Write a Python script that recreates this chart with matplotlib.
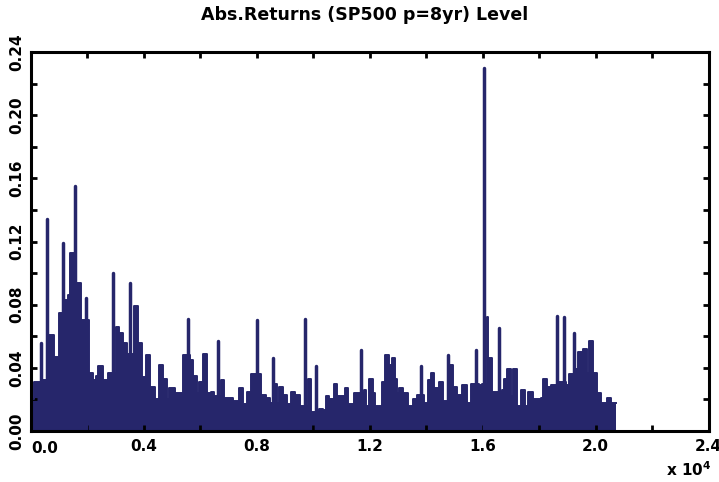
import numpy as np
import matplotlib
matplotlib.use("Agg")
import matplotlib.pyplot as plt
from matplotlib.ticker import MultipleLocator, FuncFormatter

# --- Data (x = trading day index, y = |return|) ---
# background envelope: level starting at each day (step profile)
bg_day = [0, 90, 380, 620, 800, 975, 1190, 1295, 1365, 1610, 1755, 2040, 2180,
          2290, 2390, 2535, 2710, 3000, 3100, 3245, 3385, 3600, 3635, 3775, 3920,
          4060, 4200, 4380, 4520, 4660, 4800, 4880, 5090, 5370, 5650, 5725, 5870,
          5940, 6080, 6220, 6365, 6500, 6720, 6830, 7145, 7360, 7500, 7640, 7780,
          8140, 8320, 8460, 8640, 8710, 8780, 8920, 9060, 9200, 9345, 9520, 9800,
          9910, 10200, 10340, 10440, 10550, 10730, 10830, 11120, 11220, 11440,
          11790, 11860, 11970, 12110, 12180, 12430, 12540, 12680, 12780, 12890,
          12960, 13030, 13170, 13350, 13530, 13670, 13920, 14060, 14170, 14270,
          14450, 14590, 14840, 14950, 15090, 15270, 15440, 15590, 15870, 15975,
          16150, 16190, 16330, 16690, 16760, 16860, 17000, 17075, 17220, 17360,
          17500, 17600, 17780, 18070, 18140, 18280, 18420, 18710, 18950, 19060,
          19310, 19380, 19560, 19700, 19770, 19910, 20050, 20200, 20410, 20550]
bg_level = [0.020, 0.031, 0.032, 0.061, 0.047, 0.075, 0.083, 0.086, 0.113, 0.094,
            0.070, 0.037, 0.032, 0.035, 0.041, 0.032, 0.037, 0.066, 0.062, 0.056,
            0.049, 0.028, 0.079, 0.056, 0.034, 0.048, 0.028, 0.020, 0.042, 0.033,
            0.020, 0.027, 0.024, 0.048, 0.045, 0.035, 0.024, 0.031, 0.049, 0.024,
            0.025, 0.022, 0.032, 0.021, 0.019, 0.027, 0.017, 0.025, 0.036, 0.023,
            0.021, 0.018, 0.030, 0.018, 0.028, 0.023, 0.017, 0.025, 0.023, 0.016,
            0.033, 0.012, 0.014, 0.013, 0.022, 0.020, 0.030, 0.022, 0.027, 0.017,
            0.024, 0.026, 0.016, 0.033, 0.024, 0.016, 0.031, 0.048, 0.042, 0.046,
            0.033, 0.024, 0.027, 0.024, 0.016, 0.020, 0.023, 0.018, 0.032, 0.037,
            0.027, 0.031, 0.019, 0.042, 0.028, 0.023, 0.029, 0.018, 0.030, 0.029,
            0.030, 0.072, 0.046, 0.025, 0.026, 0.033, 0.039, 0.022, 0.039, 0.016,
            0.026, 0.016, 0.025, 0.020, 0.021, 0.033, 0.028, 0.029, 0.031, 0.029,
            0.036, 0.039, 0.050, 0.052, 0.037, 0.057, 0.037, 0.024, 0.018, 0.021,
            0.018]
last_day = 20730

# isolated spikes
spike_day = [337, 567, 1117, 1560, 1950, 2908, 3510, 5567, 6631, 8014, 8564,
             9716, 10106, 11702, 13830, 14787, 15780, 16064, 16595, 18617, 18865,
             19220]
spike_h = [0.056, 0.134, 0.119, 0.155, 0.084, 0.100, 0.094, 0.071, 0.057, 0.070,
           0.046, 0.071, 0.041, 0.051, 0.041, 0.048, 0.051, 0.230, 0.065, 0.073,
           0.072, 0.062]

navy = "#26266b"

fig = plt.figure(figsize=(7.19, 4.82), dpi=100)
ax = fig.add_axes([31 / 719, 1 - 431 / 482, (708.5 - 31) / 719, (431 - 52) / 482])

x = np.array(bg_day + [last_day])
y = np.array(bg_level + [bg_level[-1]])
ax.fill_between(x, y, step="post", color=navy, lw=0)
ax.step(x, y, where="post", color=navy, lw=1.4, solid_joinstyle="round")
ax.vlines(spike_day, 0, spike_h, colors=navy, lw=2.5, capstyle="round")

ax.set_xlim(0, 24000)
ax.set_ylim(0, 0.24)

ax.xaxis.set_major_locator(MultipleLocator(4000))
ax.xaxis.set_minor_locator(MultipleLocator(2000))
ax.yaxis.set_major_locator(MultipleLocator(0.04))
ax.yaxis.set_minor_locator(MultipleLocator(0.02))
# the 0.0 label is drawn by hand below, a bit to the right
ax.xaxis.set_major_formatter(FuncFormatter(lambda v, p: "" if v == 0 else f"{v / 1e4:.1f}"))
ax.yaxis.set_major_formatter(FuncFormatter(lambda v, p: f"{v:.2f}"))
ax.tick_params(which="both", direction="in", top=True, right=True,
               length=4, width=2, color="black")
ax.tick_params(axis="x", pad=6)
ax.tick_params(axis="y", pad=5)
for lab in ax.get_xticklabels():
    lab.set_fontsize(11)
    lab.set_fontweight("bold")
for lab in ax.get_yticklabels():
    lab.set_fontsize(11)
    lab.set_fontweight("bold")
    lab.set_rotation(90)
    lab.set_va("center")

ax.annotate("0.0", xy=(0, 0), xycoords="data", xytext=(10, -7.5),
            textcoords="offset points", ha="center", va="top",
            fontsize=11, fontweight="bold", annotation_clip=False)

for s in ax.spines.values():
    s.set_linewidth(2.2)

fig.text(365 / 719, 1 - 15 / 482, "Abs.Returns (SP500 p=8yr) Level",
         ha="center", va="center", fontsize=12.5, fontweight="bold")
fig.text(689 / 719, 1 - 470 / 482, r"x 10$^\mathbf{4}$", ha="center", va="center",
         fontsize=11, fontweight="bold")

fig.savefig("out.png", dpi=100)
